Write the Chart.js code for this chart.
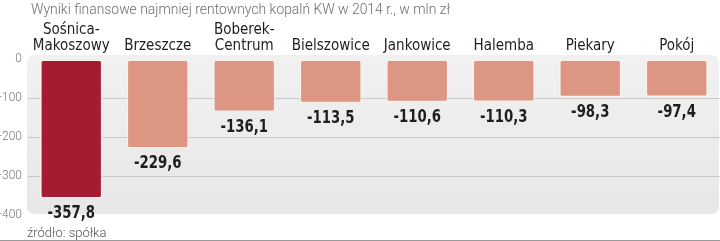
<!DOCTYPE html>
<html lang="pl">
<head>
<meta charset="utf-8">
<script src="https://cdn.jsdelivr.net/npm/chart.js@4/dist/chart.umd.min.js"></script>
<style>
  html, body { margin: 0; padding: 0; background: #fff; }
  .wrap { position: relative; width: 720px; height: 241px; overflow: hidden; }
  #chart { position: absolute; left: 0; top: 0; }
  .title {
    position: absolute; left: 31px; top: 1px;
    font-family: Roboto, "Open Sans", sans-serif; font-weight: 300;
    font-size: 13.9px; color: #6e6e6e; white-space: nowrap;
  }
  .source {
    position: absolute; left: 27px; top: 225px;
    font-family: Roboto, "Open Sans", sans-serif; font-weight: 300;
    font-size: 13px; color: #555; white-space: nowrap;
  }
  .rule { position: absolute; left: 0; right: 0; top: 240px; height: 0; border-top: 1px solid #9a9a9a; }
</style>
</head>
<body>
<div class="wrap">
  <canvas id="chart" width="720" height="241"></canvas>
  <div class="title">Wyniki finansowe najmniej rentownych kopalń KW w 2014 r., w mln zł</div>
  <div class="source">źródło: spółka</div>
  <div class="rule"></div>
</div>
<script>
// Dane
const mines = [
  ['Sośnica-', 'Makoszowy'], 'Brzeszcze', ['Boberek-', 'Centrum'], 'Bielszowice',
  'Jankowice', 'Halemba', 'Piekary', 'Pokój'
];
const results = [-357.8, -229.6, -136.1, -113.5, -110.6, -110.3, -98.3, -97.4];
const yTicks = [0, -100, -200, -300, -400];

const DARK = '#a31c32';
const SALMON = '#dc9682';

// grey rounded panel behind the plot
const panelPlugin = {
  id: 'panel',
  beforeDraw(chart) {
    const { ctx, chartArea: a } = chart;
    const x = a.left - 1, y = a.top - 4, w = a.right - a.left, h = a.bottom - a.top + 3;
    const g = ctx.createLinearGradient(0, y, 0, y + h);
    g.addColorStop(0, '#f1f1f1');
    g.addColorStop(1, '#e7e7e7');
    ctx.save();
    ctx.fillStyle = g;
    ctx.beginPath();
    ctx.roundRect(x, y, w, h, 7);
    ctx.fill();
    ctx.restore();
  }
};

// value labels under every bar (squeezed a bit, the original face is condensed)
const valueLabels = {
  id: 'valueLabels',
  afterDatasetsDraw(chart) {
    const { ctx } = chart;
    const meta = chart.getDatasetMeta(0);
    ctx.save();
    ctx.font = 'bold 18px "DejaVu Sans Condensed", sans-serif';
    ctx.fillStyle = '#1e1e1e';
    ctx.textAlign = 'center';
    ctx.textBaseline = 'top';
    meta.data.forEach((bar, i) => {
      ctx.save();
      ctx.translate(bar.x, bar.y + 6);
      ctx.scale(0.82, 1);
      ctx.fillText(results[i].toFixed(1).replace('.', ','), 0, 0);
      ctx.restore();
    });
    ctx.restore();
  }
};

new Chart(document.getElementById('chart'), {
  type: 'bar',
  data: {
    labels: mines,
    datasets: [{
      data: results,
      backgroundColor: results.map((v, i) => i === 0 ? DARK : SALMON),
      borderColor: 'rgba(250,240,236,0.9)',
      borderWidth: 1.5,
      borderRadius: 3,
      borderSkipped: false,
      barPercentage: 0.72,
      categoryPercentage: 1
    }]
  },
  options: {
    responsive: false,
    animation: false,
    layout: { padding: { top: 0, bottom: 26, left: 0, right: 0 } },
    plugins: { legend: { display: false }, tooltip: { enabled: false }, title: { display: false } },
    scales: {
      x: {
        position: 'top',
        grid: { display: false, drawTicks: false },
        border: { display: false },
        ticks: {
          color: '#1e1e1e',
          padding: 5,
          maxRotation: 0,
          autoSkip: false,
          font: { family: '"DejaVu Sans Condensed", sans-serif', size: 15, lineHeight: '16px' }
        },
        afterFit(s) { s.height = 59; }
      },
      y: {
        min: -400,
        max: 0,
        grid: {
          drawTicks: false,
          color: c => (c.tick && c.tick.value < 0 && c.tick.value > -400) ? '#c9c9c9' : 'rgba(0,0,0,0)',
          lineWidth: 1
        },
        border: { display: false },
        afterBuildTicks(s) { s.ticks = yTicks.map(v => ({ value: v })); },
        ticks: {
          color: '#777',
          padding: 6,
          font: { family: 'Roboto, sans-serif', weight: 300, size: 12 },
          callback: v => String(v)
        },
        afterFit(s) { s.width = 28; }
      }
    }
  },
  plugins: [panelPlugin, valueLabels]
});
</script>
</body>
</html>
